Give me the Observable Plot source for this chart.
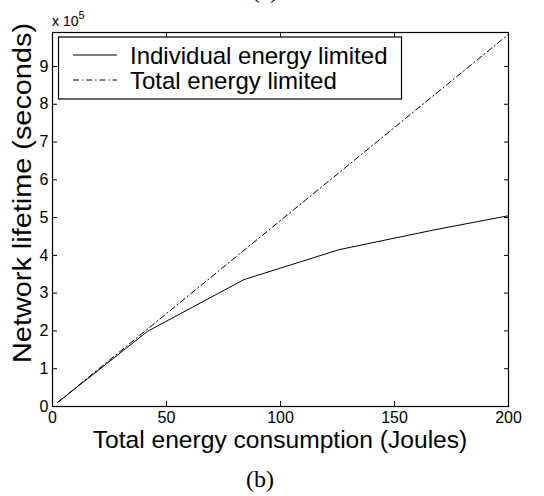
<!DOCTYPE html>
<html><head><meta charset="utf-8">
<script src="https://cdn.jsdelivr.net/npm/d3@7"></script>
<script src="https://cdn.jsdelivr.net/npm/@observablehq/plot@0.6"></script>
<style>body{margin:0;background:#fff} svg{display:block}</style>
</head><body><div id="chart"></div>
<script>
// Data
const individualEnergy = [2.3, 41.7, 84, 125.6, 167, 200];
const individualLifetime = [0.11e5, 1.99e5, 3.36e5, 4.15e5, 4.67e5, 5.05e5];
const totalEnergy = [2.3, 200];
const totalLifetime = [0.11e5, 9.85e5];
const xTicks = [0, 50, 100, 150, 200];
const yTicks = [0, 1, 2, 3, 4, 5, 6, 7, 8, 9].map(d => d * 1e5);
const seriesNames = ["Individual energy limited", "Total energy limited"];
const xLabel = "Total energy consumption (Joules)";
const yLabel = "Network lifetime (seconds)";
const caption = "(b)";

const individual = individualEnergy.map((e, i) => ({e, t: individualLifetime[i]}));
const total = totalEnergy.map((e, i) => ({e, t: totalLifetime[i]}));

const sans = "'Liberation Sans', Arial, Helvetica, sans-serif";
const serif = "'Liberation Serif', 'Times New Roman', serif";
const dashDot = "6,3,1.2,3";

const chart = Plot.plot({
  width: 544, height: 496,
  marginLeft: 52, marginRight: 36, marginTop: 32, marginBottom: 90,
  style: {fontFamily: sans, fontSize: "16px", color: "black", background: "white", overflow: "visible"},
  x: {domain: [0, 200]},
  y: {domain: [0, 9.9e5]},
  marks: [
    Plot.line(individual, {x: "e", y: "t", stroke: "black", strokeWidth: 1}),
    Plot.line(total, {x: "e", y: "t", stroke: "black", strokeWidth: 1, strokeDasharray: dashDot}),
    Plot.axisX(xTicks, {anchor: "bottom", tickSize: -5, tickPadding: 10, label: null, fontSize: 16}),
    Plot.axisX(xTicks, {anchor: "top", tickSize: -5, tickFormat: () => "", label: null}),
    Plot.axisY(yTicks, {anchor: "left", tickSize: -5, tickPadding: 9, tickFormat: d => d / 1e5, label: null, fontSize: 16}),
    Plot.axisY(yTicks, {anchor: "right", tickSize: -5, tickFormat: () => "", label: null}),
    Plot.frame({stroke: "black", strokeWidth: 1.2})
  ]
});
document.getElementById("chart").append(chart);

const svg = d3.select(chart);
const g = svg.append("g").attr("font-family", sans).attr("fill", "black").attr("text-anchor", "start");
// axis labels
g.append("text").attr("x", 280).attr("y", 448).attr("text-anchor", "middle")
  .attr("font-size", 24.6).text(xLabel);
g.append("text").attr("transform", "translate(31,193) rotate(-90)").attr("text-anchor", "middle")
  .attr("font-size", 25).attr("textLength", 340).attr("lengthAdjust", "spacingAndGlyphs").text(yLabel);
// exponent
const ex = g.append("text").attr("x", 52).attr("y", 26).attr("font-size", 14).attr("text-anchor", "start");
ex.append("tspan").text("x 10");
ex.append("tspan").attr("dy", -7).attr("font-size", 11).text("5");
// legend
const lg = g.append("g");
lg.append("rect").attr("x", 58.5).attr("y", 37).attr("width", 343).attr("height", 62)
  .attr("fill", "white").attr("stroke", "black").attr("stroke-width", 1.2);
[[55, null], [80, dashDot]].forEach(([yy, dash], i) => {
  lg.append("line").attr("x1", 73).attr("x2", 117).attr("y1", yy).attr("y2", yy)
    .attr("stroke", "black").attr("stroke-width", 1).attr("stroke-dasharray", dash);
  lg.append("text").attr("x", 130).attr("y", yy + 8.5).attr("font-size", 24)
    .attr("text-anchor", "start").text(seriesNames[i]);
});
// captions
svg.append("text").attr("x", 260).attr("y", 487).attr("text-anchor", "middle")
  .attr("font-family", serif).attr("font-size", 24).text(caption);
svg.append("text").attr("x", 265).attr("y", -2).attr("text-anchor", "middle")
  .attr("font-family", serif).attr("font-size", 24).text("(a)");
</script>
</body></html>
